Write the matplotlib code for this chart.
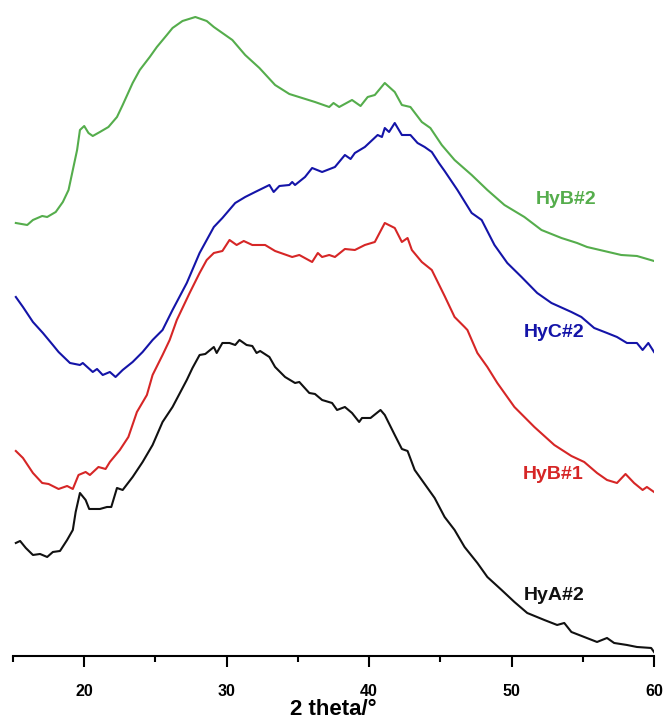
import matplotlib
matplotlib.use("Agg")
import matplotlib.pyplot as plt
from matplotlib.ticker import MultipleLocator

plt.rcParams['font.family'] = ['Liberation Sans', 'DejaVu Sans']

# 2theta (deg) and stacked intensity (a.u., offsets included)
hyb2_x = [15.2, 16.0, 16.4, 17.05, 17.4, 18.0, 18.5, 18.9, 19.2, 19.5, 19.7, 20.0, 20.3, 20.6,
          21.1, 21.7, 22.3, 22.7, 23.4, 23.9, 24.6, 25.1, 25.8, 26.2, 26.9, 27.8, 28.6, 29.1,
          29.7, 30.4, 31.3, 32.3, 33.4, 34.4, 35.3, 36.2, 37.2, 37.5, 37.9, 38.8, 39.4, 39.9,
          40.4, 41.1, 41.8, 42.3, 42.9, 43.7, 44.3, 45.1, 46.0, 47.2, 48.3, 49.5, 50.9, 52.1,
          53.5, 54.6, 55.3, 56.5, 57.7, 58.8, 60.0]
hyb2_y = [433, 431, 436, 440, 439, 444, 454, 466, 486, 506, 526, 530, 523, 520,
          524, 529, 539, 551, 573, 586, 599, 609, 621, 628, 635, 639, 635, 629,
          623, 616, 601, 588, 571, 562, 558, 554, 549, 553, 549, 556, 550, 559,
          561, 573, 564, 551, 549, 534, 528, 511, 496, 481, 466, 451, 439, 426,
          418, 413, 409, 405, 401, 400, 395]

hyc2_x = [15.2, 15.7, 16.4, 17.1, 17.8, 18.2, 19.0, 19.7, 19.9, 20.6, 20.9, 21.3, 21.8, 22.2,
          22.7, 23.4, 24.1, 24.8, 25.5, 26.2, 27.2, 28.1, 29.1, 29.7, 30.6, 31.3, 32.0, 33.0,
          33.3, 33.7, 34.4, 34.6, 34.8, 35.5, 36.0, 36.7, 37.6, 38.3, 38.7, 39.0, 39.7, 40.6,
          40.9, 41.1, 41.4, 41.8, 42.3, 42.9, 43.4, 43.9, 44.4, 44.9, 45.3, 46.2, 47.2, 47.9,
          48.8, 49.7, 50.7, 51.8, 52.8, 54.2, 54.9, 55.8, 56.7, 57.4, 58.1, 58.8, 59.2, 59.6, 60.0]
hyc2_y = [359, 349, 334, 323, 311, 304, 293, 291, 293, 284, 287, 281, 284, 279,
          286, 294, 304, 316, 326, 346, 373, 403, 429, 438, 453, 459, 464, 471,
          464, 470, 471, 474, 471, 479, 488, 484, 489, 501, 497, 503, 509, 521,
          519, 528, 524, 533, 521, 521, 513, 509, 504, 493, 485, 466, 443, 436,
          411, 393, 379, 363, 353, 344, 339, 328, 323, 319, 313, 313, 306, 313, 304]

hyb1_x = [15.2, 15.7, 16.4, 17.05, 17.5, 18.2, 18.8, 19.2, 19.6, 20.1, 20.4, 21.0, 21.5, 21.8,
          22.5, 23.1, 23.7, 24.4, 24.8, 25.5, 26.0, 26.5, 27.4, 28.1, 28.6, 29.1, 29.7, 30.2,
          30.7, 31.2, 31.8, 32.7, 33.4, 34.6, 35.1, 36.0, 36.4, 36.7, 37.2, 37.6, 38.3, 39.0,
          39.7, 40.4, 41.1, 41.8, 42.3, 42.7, 43.0, 43.7, 44.4, 45.3, 46.0, 46.7, 46.9, 47.6,
          48.3, 49.0, 50.2, 51.6, 53.0, 54.2, 55.1, 56.0, 56.7, 57.4, 58.0, 58.6, 59.2, 59.5, 60.0]
hyb1_y = [205, 198, 183, 173, 172, 167, 170, 167, 181, 184, 181, 189, 187, 194,
          206, 219, 244, 261, 281, 301, 316, 336, 363, 383, 396, 403, 405, 416,
          411, 415, 411, 411, 405, 399, 401, 394, 403, 399, 401, 399, 407, 406,
          411, 414, 433, 428, 414, 418, 406, 394, 386, 360, 339, 329, 326, 303,
          289, 273, 249, 229, 211, 200, 194, 183, 176, 173, 182, 173, 166, 169, 164]

hya2_x = [15.2, 15.5, 15.9, 16.4, 16.9, 17.4, 17.8, 18.3, 18.8, 19.2, 19.4, 19.7, 20.1, 20.35,
          21.1, 21.6, 21.9, 22.3, 22.7, 23.4, 24.1, 24.8, 25.5, 26.2, 27.2, 27.6, 28.1, 28.5,
          29.1, 29.3, 29.7, 30.2, 30.6, 30.9, 31.4, 31.8, 32.1, 32.35, 33.0, 33.4, 34.1, 34.8,
          35.1, 35.8, 36.2, 36.7, 37.4, 37.75, 38.3, 38.8, 39.3, 39.5, 40.1, 40.8, 41.1, 41.8,
          42.3, 42.7, 43.2, 43.7, 44.6, 45.3, 46.0, 46.7, 47.6, 48.3, 49.3, 50.2, 51.1, 52.3,
          53.2, 53.7, 54.2, 55.1, 56.0, 56.7, 57.2, 58.1, 58.8, 59.8, 60.0]
hya2_y = [113, 115, 108, 101, 102, 99, 104, 105, 116, 126, 144, 163, 156, 147,
          147, 149, 149, 168, 166, 179, 194, 211, 234, 249, 276, 288, 301, 302,
          309, 303, 313, 313, 311, 316, 311, 310, 303, 305, 299, 289, 279, 273,
          274, 263, 262, 256, 253, 246, 249, 243, 234, 238, 238, 246, 241, 221,
          207, 205, 186, 176, 158, 139, 126, 109, 93, 79, 66, 54, 43, 36,
          31, 33, 24, 19, 14, 18, 13, 11, 9, 8, 4]

series_names = ['HyB#2', 'HyC#2', 'HyB#1', 'HyA#2']
series_colors = ['#55ad4c', '#1414a8', '#d62626', '#111111']
label_pos = [(53.8, 456), (53.0, 323), (52.9, 181), (53.0, 60)]

x_ticks = [20, 30, 40, 50, 60]
x_label = '2 theta/°'

fig = plt.figure(figsize=(6.66, 7.25), dpi=100)
ax = fig.add_axes([0.0195, 0.0952, 0.9625, 0.9048])

data = [(hyb2_x, hyb2_y), (hyc2_x, hyc2_y), (hyb1_x, hyb1_y), (hya2_x, hya2_y)]
for (xs, ys), name, col, (lx, ly) in zip(data, series_names, series_colors, label_pos):
    ax.plot(xs, ys, color=col, lw=1.5)
    ax.text(lx, ly, name, color=col, fontsize=14, fontweight='bold',
            ha='center', va='center')

ax.set_xlim(15, 60)
ax.set_ylim(0, 656)
ax.set_xticks(x_ticks)
ax.xaxis.set_minor_locator(MultipleLocator(5))
ax.tick_params(axis='x', which='major', direction='out', length=8, width=1.5,
               labelsize=11.5, pad=12)
ax.tick_params(axis='x', which='minor', direction='out', length=4.5, width=1.5)
for lab in ax.get_xticklabels():
    lab.set_fontweight('bold')
ax.set_yticks([])
for s in ['left', 'right', 'top']:
    ax.spines[s].set_visible(False)
ax.spines['bottom'].set_linewidth(1.5)
ax.set_xlabel(x_label, fontsize=16, fontweight='bold', labelpad=0)

fig.savefig('out.png', dpi=100)
